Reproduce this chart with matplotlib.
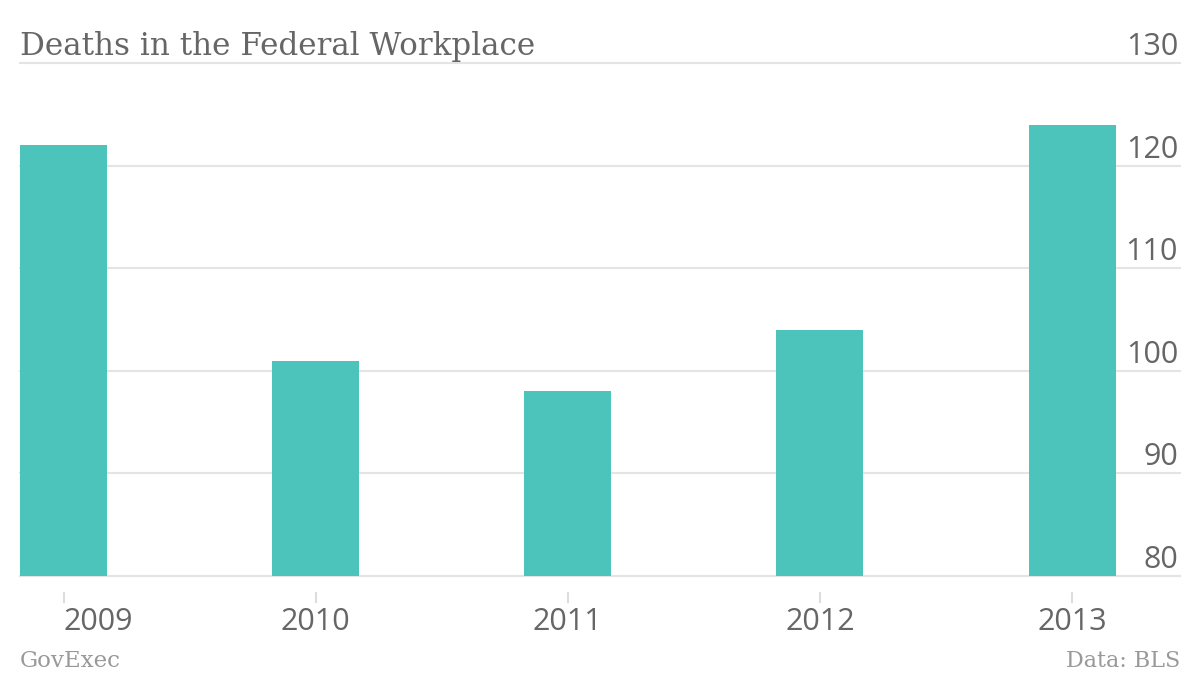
import matplotlib
matplotlib.use("Agg")
import matplotlib.pyplot as plt
import matplotlib.transforms as mtransforms

years = ["2009", "2010", "2011", "2012", "2013"]
deaths = [122, 101, 98, 104, 124]
yticks = [80, 90, 100, 110, 120, 130]

title = "Deaths in the Federal Workplace"
source_left = "GovExec"
source_right = "Data: BLS"

bar_color = "#4cc4bb"
text_color = "#666666"
grid_color = "#e4e4e4"

fig = plt.figure(figsize=(12, 6.76), dpi=100)
ax = fig.add_axes([20/1200, 100/676, 1160/1200, 513/676])

x = list(range(len(years)))
ax.bar(x, deaths, width=0.345, color=bar_color, zorder=3)
ax.set_xlim(-0.1726, 4.428)
ax.set_ylim(yticks[0], yticks[-1])

for v in yticks:
    ax.axhline(v, color=grid_color, lw=1.5, zorder=1, clip_on=False)

ax.set_yticks(yticks)
ax.tick_params(axis="y", length=0, labelleft=False, labelright=False)
trans = mtransforms.blended_transform_factory(ax.transAxes, ax.transData)
offset = mtransforms.ScaledTranslation(-2/100, 8/100, fig.dpi_scale_trans)
for v in yticks:
    ax.text(1.0, v, str(v), transform=trans + offset, ha="right", va="baseline",
            fontsize=22, color=text_color, family="Open Sans")

for s in ["left", "right", "top"]:
    ax.spines[s].set_visible(False)
ax.spines["bottom"].set_position(("outward", 11.5))
ax.spines["bottom"].set_visible(False)
ax.set_xticks(x)
ax.set_xticklabels(years, fontsize=22, color=text_color, family="Open Sans")
ax.tick_params(axis="x", length=8, width=1.5, color="#dddddd", pad=2.5)
lbls = ax.get_xticklabels()
lbls[0].set_horizontalalignment("left")

fig.text(20/1200, 1 - 55/676, title, fontsize=22.3, color=text_color,
         family="DejaVu Serif", ha="left", va="baseline")
fig.text(20/1200, 1 - 667/676, source_left, fontsize=16.5, color="#999999",
         family="DejaVu Serif", ha="left", va="baseline")
fig.text(1180/1200, 1 - 667/676, source_right, fontsize=16, color="#999999",
         family="DejaVu Serif", ha="right", va="baseline")

fig.savefig("out.png", dpi=100)
